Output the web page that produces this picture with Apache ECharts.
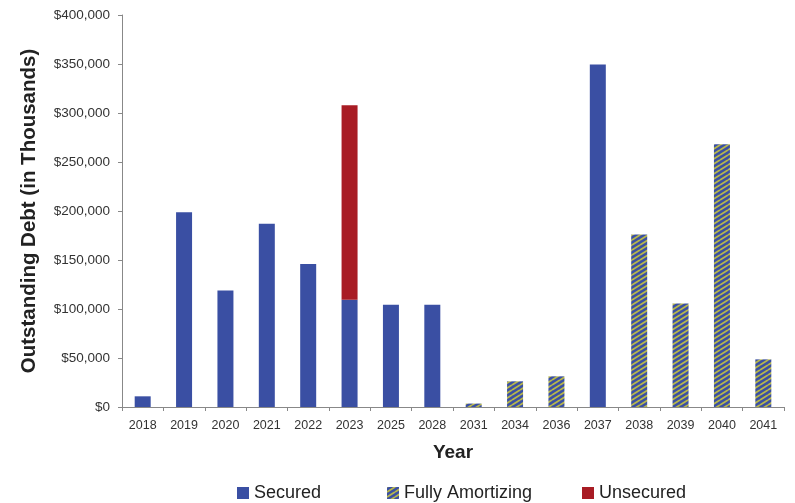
<!DOCTYPE html>
<html>
<head>
<meta charset="utf-8">
<script src="https://cdn.jsdelivr.net/npm/echarts@6/dist/echarts.min.js"></script>
<style>html,body{margin:0;padding:0;background:#fff}#c{width:795px;height:503px}</style>
</head>
<body>
<div id="c"></div>
<script>
const categories = ['2018','2019','2020','2021','2022','2023','2025','2028','2031','2034','2036','2037','2038','2039','2040','2041'];
const secured = [10900,198600,119000,187000,146000,109500,104400,104400,null,null,null,349500,null,null,null,null];
const fullyAmortizing = [null,null,null,null,null,null,null,null,3500,26200,31300,null,176000,105500,268000,48600];
const unsecured = [null,null,null,null,null,198500,null,null,null,null,null,null,null,null,null,null];
const yTicks = [0,50000,100000,150000,200000,250000,300000,350000,400000];
const legendNames = ['Secured','Fully Amortizing','Unsecured'];

const BLUE = '#3a4fa3', RED = '#a81c24', STRIPE = '#b9b84a';

function makeHatch(){
  const w = 8, h = 5;
  const c = document.createElement('canvas');
  c.width = w; c.height = h;
  const g = c.getContext('2d');
  g.fillStyle = BLUE; g.fillRect(0,0,w,h);
  g.strokeStyle = STRIPE; g.lineWidth = 1.8;
  for (let k=-1;k<=1;k++){
    g.beginPath(); g.moveTo(0, h + k*h); g.lineTo(w, k*h); g.stroke();
  }
  return c;
}
const hatch = {image: makeHatch(), repeat: 'repeat'};

const chart = echarts.init(document.getElementById('c'), null, {renderer:'canvas'});
const font = 'Liberation Sans, Arial, sans-serif';
const legendLefts = [237, 387, 582];
chart.setOption({
  animation: false,
  textStyle: {fontFamily: font},
  grid: {left: 122, right: 11, top: 15, bottom: 96},
  legend: legendNames.map((n, i) => ({
    left: legendLefts[i], top: 484, itemWidth: 12, itemHeight: 12, itemGap: 0,
    icon: 'rect', padding: 0,
    textStyle: {fontSize: 18, color: '#222', fontFamily: font, padding: [0,0,0,0]},
    data: [n]
  })),
  xAxis: {
    type: 'category', data: categories,
    name: 'Year', nameLocation: 'middle', nameGap: 36,
    nameTextStyle: {fontSize: 19, fontWeight: 'bold', color: '#222'},
    axisLine: {lineStyle: {color: '#888'}},
    axisTick: {show: true, length: 4, lineStyle: {color: '#888'}},
    axisLabel: {fontSize: 12.5, color: '#333', margin: 12, interval: 0}
  },
  yAxis: {
    type: 'value', min: yTicks[0], max: yTicks[yTicks.length-1], interval: 50000,
    name: 'Outstanding Debt (in Thousands)', nameLocation: 'middle', nameGap: 82,
    nameTextStyle: {fontSize: 20.5, fontWeight: 'bold', color: '#222'},
    splitLine: {show: false},
    axisLine: {show: true, lineStyle: {color: '#888'}},
    axisTick: {show: true, length: 4, lineStyle: {color: '#888'}},
    axisLabel: {fontSize: 13.5, color: '#333', margin: 12,
      formatter: v => '$' + v.toLocaleString('en-US')}
  },
  series: [
    {name: 'Secured', type: 'bar', stack: 'd', data: secured, barWidth: 16, itemStyle: {color: BLUE}},
    {name: 'Fully Amortizing', type: 'bar', stack: 'd', data: fullyAmortizing, barWidth: 16, itemStyle: {color: hatch}},
    {name: 'Unsecured', type: 'bar', stack: 'd', data: unsecured, barWidth: 16, itemStyle: {color: RED}}
  ]
});
</script>
</body>
</html>
